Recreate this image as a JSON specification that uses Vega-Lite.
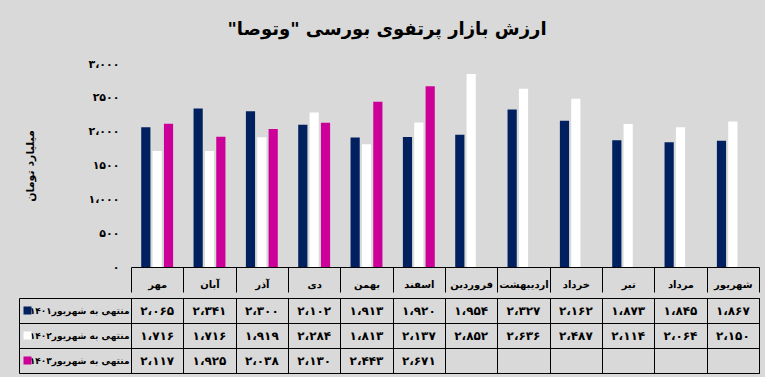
{
  "$schema": "https://vega.github.io/schema/vega-lite/v6.json",
  "background": "#d9d9d9",
  "padding": {"left": 14, "top": 21, "right": 5, "bottom": 5},
  "spacing": 0,
  "title": {
    "text": "ارزش بازار پرتفوی بورسی \"وتوصا\"\u200f",
    "font": "DejaVu Sans",
    "fontSize": 18,
    "fontWeight": "bold",
    "color": "#000000",
    "anchor": "middle",
    "offset": 19
  },
  "config": {
    "font": "DejaVu Sans",
    "axis": {"labelColor": "#000000", "titleColor": "#000000"}
  },
  "data": {
    "values": [
      {"month": "مهر", "series": "منتهی به شهریور۱۴۰۱", "value": 2065, "label": "۲،۰۶۵"},
      {"month": "آبان", "series": "منتهی به شهریور۱۴۰۱", "value": 2341, "label": "۲،۳۴۱"},
      {"month": "آذر", "series": "منتهی به شهریور۱۴۰۱", "value": 2300, "label": "۲،۳۰۰"},
      {"month": "دی", "series": "منتهی به شهریور۱۴۰۱", "value": 2102, "label": "۲،۱۰۲"},
      {"month": "بهمن", "series": "منتهی به شهریور۱۴۰۱", "value": 1913, "label": "۱،۹۱۳"},
      {"month": "اسفند", "series": "منتهی به شهریور۱۴۰۱", "value": 1920, "label": "۱،۹۲۰"},
      {"month": "فروردین", "series": "منتهی به شهریور۱۴۰۱", "value": 1954, "label": "۱،۹۵۴"},
      {"month": "اردیبهشت", "series": "منتهی به شهریور۱۴۰۱", "value": 2327, "label": "۲،۳۲۷"},
      {"month": "خرداد", "series": "منتهی به شهریور۱۴۰۱", "value": 2162, "label": "۲،۱۶۲"},
      {"month": "تیر", "series": "منتهی به شهریور۱۴۰۱", "value": 1873, "label": "۱،۸۷۳"},
      {"month": "مرداد", "series": "منتهی به شهریور۱۴۰۱", "value": 1845, "label": "۱،۸۴۵"},
      {"month": "شهریور", "series": "منتهی به شهریور۱۴۰۱", "value": 1867, "label": "۱،۸۶۷"},
      {"month": "مهر", "series": "منتهی به شهریور۱۴۰۲", "value": 1716, "label": "۱،۷۱۶"},
      {"month": "آبان", "series": "منتهی به شهریور۱۴۰۲", "value": 1716, "label": "۱،۷۱۶"},
      {"month": "آذر", "series": "منتهی به شهریور۱۴۰۲", "value": 1919, "label": "۱،۹۱۹"},
      {"month": "دی", "series": "منتهی به شهریور۱۴۰۲", "value": 2284, "label": "۲،۲۸۴"},
      {"month": "بهمن", "series": "منتهی به شهریور۱۴۰۲", "value": 1813, "label": "۱،۸۱۳"},
      {"month": "اسفند", "series": "منتهی به شهریور۱۴۰۲", "value": 2137, "label": "۲،۱۳۷"},
      {"month": "فروردین", "series": "منتهی به شهریور۱۴۰۲", "value": 2852, "label": "۲،۸۵۲"},
      {"month": "اردیبهشت", "series": "منتهی به شهریور۱۴۰۲", "value": 2636, "label": "۲،۶۳۶"},
      {"month": "خرداد", "series": "منتهی به شهریور۱۴۰۲", "value": 2487, "label": "۲،۴۸۷"},
      {"month": "تیر", "series": "منتهی به شهریور۱۴۰۲", "value": 2114, "label": "۲،۱۱۴"},
      {"month": "مرداد", "series": "منتهی به شهریور۱۴۰۲", "value": 2064, "label": "۲،۰۶۴"},
      {"month": "شهریور", "series": "منتهی به شهریور۱۴۰۲", "value": 2150, "label": "۲،۱۵۰"},
      {"month": "مهر", "series": "منتهی به شهریور۱۴۰۳", "value": 2117, "label": "۲،۱۱۷"},
      {"month": "آبان", "series": "منتهی به شهریور۱۴۰۳", "value": 1925, "label": "۱،۹۲۵"},
      {"month": "آذر", "series": "منتهی به شهریور۱۴۰۳", "value": 2038, "label": "۲،۰۳۸"},
      {"month": "دی", "series": "منتهی به شهریور۱۴۰۳", "value": 2130, "label": "۲،۱۳۰"},
      {"month": "بهمن", "series": "منتهی به شهریور۱۴۰۳", "value": 2443, "label": "۲،۴۴۳"},
      {"month": "اسفند", "series": "منتهی به شهریور۱۴۰۳", "value": 2671, "label": "۲،۶۷۱"}
    ]
  },
  "vconcat": [
    {
      "width": 628,
      "height": 203,
      "view": {"stroke": null},
      "mark": {"type": "bar"},
      "encoding": {
        "x": {
          "field": "month",
          "type": "nominal",
          "sort": ["مهر", "آبان", "آذر", "دی", "بهمن", "اسفند", "فروردین", "اردیبهشت", "خرداد", "تیر", "مرداد", "شهریور"],
          "scale": {"paddingInner": 0, "paddingOuter": 0},
          "axis": {
            "orient": "bottom",
            "title": null,
            "domainColor": "#000000",
            "domainWidth": 1,
            "tickColor": "#000000",
            "tickWidth": 1,
            "tickBand": "extent",
            "tickSize": 25,
            "labelPadding": -8,
            "labelBaseline": "middle",
            "labelAngle": 0,
            "labelFontSize": 10,
            "labelFontWeight": "bold"
          }
        },
        "xOffset": {
          "field": "series",
          "type": "nominal",
          "sort": ["منتهی به شهریور۱۴۰۱", "منتهی به شهریور۱۴۰۲", "منتهی به شهریور۱۴۰۳"],
          "scale": {"paddingInner": 0.19, "paddingOuter": 0.9}
        },
        "y": {
          "field": "value",
          "type": "quantitative",
          "scale": {"domain": [0, 3000]},
          "axis": {
            "values": [0, 500, 1000, 1500, 2000, 2500, 3000],
            "labelExpr": "datum.value == 0 ? '۰' : datum.value == 500 ? '۵۰۰' : datum.value == 1000 ? '۱،۰۰۰' : datum.value == 1500 ? '۱۵۰۰' : datum.value == 2000 ? '۲،۰۰۰' : datum.value == 2500 ? '۲۵۰۰' : '۳،۰۰۰'",
            "domain": false,
            "ticks": false,
            "grid": false,
            "labelPadding": 12,
            "labelFontSize": 11,
            "labelFontWeight": "bold",
            "title": "میلیارد تومان",
            "titleFontSize": 11,
            "titleFontWeight": "bold",
            "titlePadding": 52
          }
        },
        "color": {
          "field": "series",
          "type": "nominal",
          "scale": {
            "domain": ["منتهی به شهریور۱۴۰۱", "منتهی به شهریور۱۴۰۲", "منتهی به شهریور۱۴۰۳"],
            "range": ["#002060", "#ffffff", "#cc0099"]
          },
          "legend": null
        }
      }
    },
    {
      "width": 628,
      "height": 75,
      "view": {"stroke": "#000000", "strokeWidth": 1},
      "layer": [
        {
          "mark": {"type": "text", "fontSize": 12, "fontWeight": "bold", "color": "#000000"},
          "encoding": {
            "x": {
              "field": "month",
              "type": "nominal",
              "sort": ["مهر", "آبان", "آذر", "دی", "بهمن", "اسفند", "فروردین", "اردیبهشت", "خرداد", "تیر", "مرداد", "شهریور"],
              "scale": {"type": "band", "paddingInner": 0, "paddingOuter": 0, "domain": ["مهر", "آبان", "آذر", "دی", "بهمن", "اسفند", "فروردین", "اردیبهشت", "خرداد", "تیر", "مرداد", "شهریور"]},
              "axis": {
                "orient": "bottom",
                "title": null,
                "labels": false,
                "ticks": false,
                "domain": false,
                "grid": true,
                "gridColor": "#000000",
                "gridOpacity": 1,
                "gridWidth": 1,
                "tickBand": "extent"
              }
            },
            "y": {
              "field": "series",
              "type": "nominal",
              "scale": {"type": "band", "paddingInner": 0, "paddingOuter": 0, "domain": ["منتهی به شهریور۱۴۰۱", "منتهی به شهریور۱۴۰۲", "منتهی به شهریور۱۴۰۳"]},
              "axis": {
                "orient": "left",
                "title": null,
                "domain": false,
                "ticks": true,
                "tickBand": "extent",
                "tickSize": 112,
                "tickColor": "#000000",
                "tickWidth": 1,
                "grid": true,
                "gridColor": "#000000",
                "gridOpacity": 1,
                "gridWidth": 1,
                "labelPadding": -110,
                "labelFontSize": 9,
                "labelFontWeight": "bold"
              }
            },
            "text": {"field": "label"}
          }
        },
        {
          "mark": {"type": "point", "opacity": 0},
          "encoding": {
            "y": {
              "field": "series",
              "type": "nominal",
              "axis": {
                "orient": "left",
                "offset": 112,
                "title": null,
                "labels": false,
                "domain": true,
                "domainColor": "#000000",
                "domainWidth": 1,
                "grid": false,
                "ticks": true,
                "tickSize": -12,
                "tickWidth": 8,
                "tickDash": [0, 4, 8, 40],
                "tickColor": {
                  "condition": [
                    {"test": "datum.value === 'منتهی به شهریور۱۴۰۱'", "value": "#002060"},
                    {"test": "datum.value === 'منتهی به شهریور۱۴۰۲'", "value": "#ffffff"}
                  ],
                  "value": "#cc0099"
                }
              }
            }
          }
        }
      ],
      "resolve": {"axis": {"y": "independent"}}
    }
  ]
}
